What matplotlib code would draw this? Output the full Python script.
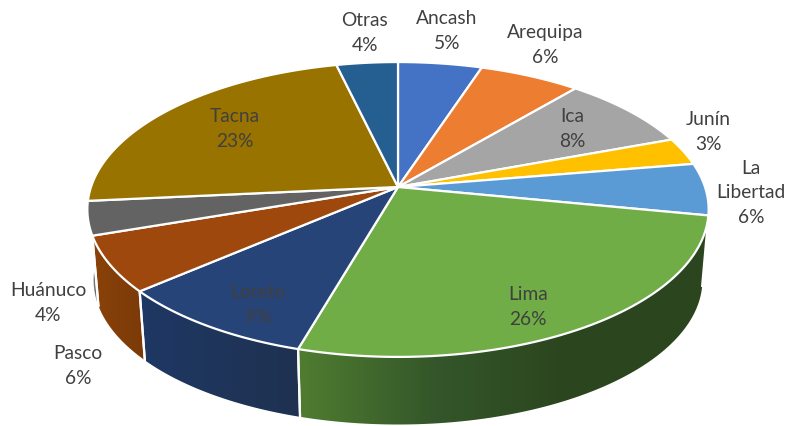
# Pie 3D por region (recreado con proyeccion en perspectiva)
import numpy as np
import matplotlib
matplotlib.use("Agg")
import matplotlib.pyplot as plt
from matplotlib.colors import LinearSegmentedColormap
from matplotlib.patches import Polygon

regiones = ["Ancash", "Arequipa", "Ica", "Junín", "La\nLibertad", "Lima",
            "Loreto", "Pasco", "Huánuco", "Tacna", "Otras"]
valores = [5.06, 6.1, 8.2, 3.0, 5.7, 26.4, 9.2, 6.1, 3.7, 22.8, 3.7]
colores = ["#4472c4", "#ed7d31", "#a5a5a5", "#ffc000", "#5b9bd5", "#70ad47",
           "#264478", "#9e480e", "#636363", "#997300", "#255e91"]

# paredes visibles: region -> colores de izquierda a derecha
paredes = {
    "Huánuco": ("#8a8a8a", "#6a6a6a"),
    "Pasco": ("#8a4209", "#7a3a08"),
    "Loreto": ("#1f3864", "#1e3150"),
    "Lima": ("#4f7d30", "#34562a", "#2b451e", "#2b451e"),
}

# posicion de las etiquetas en pixeles
pos_etiquetas = [(447, 31), (545, 45), (572, 129), (708, 132), (751, 193),
                 (528, 307), (258, 305), (78, 366), (48, 303), (235, 129), (365, 33)]

# proyeccion
cx, cy = 398, 187
a, b, k = 307, 144, 0.1525
escala_base, alto = 0.98, 71

plt.rcParams["font.family"] = ["Lato", "DejaVu Sans"]
fig = plt.figure(figsize=(7.85, 4.26), dpi=100)
ax = fig.add_axes([0, 0, 1, 1])
ax.set_xlim(0, 785)
ax.set_ylim(426, 0)
ax.axis("off")


def proyectar(t, s=1.0, dy=0.0):
    # t en grados, desde arriba en sentido horario
    u = np.sin(np.radians(t))
    v = np.cos(np.radians(t))
    d = 1 + k * v
    return np.column_stack([cx + s * a * u / d, cy + dy - s * b * v / d])


fronteras = np.concatenate([[0], np.cumsum(valores)]) / sum(valores) * 360

# paredes con degradado
for i, nombre in enumerate(regiones):
    if nombre not in paredes:
        continue
    t = np.linspace(fronteras[i], fronteras[i + 1], 80)
    arriba = proyectar(t)
    abajo = proyectar(t, escala_base, alto)
    pts = np.vstack([arriba, abajo[::-1]])
    cmap = LinearSegmentedColormap.from_list(nombre, paredes[nombre])
    x0, x1 = pts[:, 0].min(), pts[:, 0].max()
    y0, y1 = pts[:, 1].min(), pts[:, 1].max()
    grad = np.linspace(0, 1, 256).reshape(1, -1)
    im = ax.imshow(grad, cmap=cmap, extent=(x0, x1, y1, y0), aspect="auto", zorder=1)
    poly = Polygon(pts, closed=True, fc="none", ec="none", transform=ax.transData)
    ax.add_patch(poly)
    im.set_clip_path(poly)
    ax.plot(pts[[0, -1], 0], pts[[0, -1], 1], color="white", lw=1.6, zorder=2)
    ax.plot(pts[[79, 80], 0], pts[[79, 80], 1], color="white", lw=1.6, zorder=2)

ax.set_xlim(0, 785)
ax.set_ylim(426, 0)

# cara superior
for i, c in enumerate(colores):
    t = np.linspace(fronteras[i], fronteras[i + 1], 80)
    pts = np.vstack([[cx, cy], proyectar(t)])
    ax.add_patch(Polygon(pts, closed=True, fc=c, ec="white", lw=1.6, joinstyle="round", zorder=3))

# etiquetas
for nombre, val, (x, y) in zip(regiones, valores, pos_etiquetas):
    ax.text(x, y, f"{nombre}\n{val:.0f}%", ha="center", va="center", fontsize=13.8,
            color="#404040", linespacing=1.55, zorder=5)

fig.savefig("out.png", dpi=100)
